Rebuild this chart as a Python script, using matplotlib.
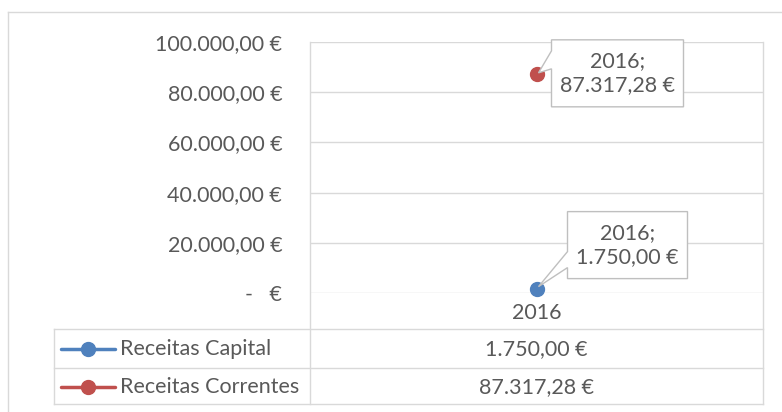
"""Receitas 2016: line chart with data table (Excel style)."""
import matplotlib
matplotlib.use("Agg")
import matplotlib.pyplot as plt
import matplotlib.transforms as mtransforms
from matplotlib.lines import Line2D
from matplotlib.patches import Polygon

# --- data ---
years = ["2016"]
series_names = ["Receitas Capital", "Receitas Correntes"]
receitas_capital = [1750.00]
receitas_correntes = [87317.28]
series_values = [receitas_capital, receitas_correntes]
series_colors = ["#4F81BD", "#C0504D"]
y_ticks = [0, 20000, 40000, 60000, 80000, 100000]

TEXT = "#595959"
GRID = "#D9D9D9"
BOX = "#BFBFBF"
FS = 15.5

plt.rcParams["font.family"] = ["Lato", "DejaVu Sans"]

W, H = 782, 412
fig = plt.figure(figsize=(W / 100, H / 100), dpi=100)


def fx(px):
    return px / W


def fy(py):
    return 1 - py / H


def eur(v):
    """Portuguese accounting format."""
    if v == 0:
        return "-   €"
    s = f"{v:,.2f}".replace(",", "X").replace(".", ",").replace("X", ".")
    return s + " €"


# plot area
ax = fig.add_axes([fx(310), fy(293), fx(763) - fx(310), fy(42) - fy(293)])
ax.set_xlim(-0.5, len(years) - 0.5)
ax.set_ylim(y_ticks[0], y_ticks[-1])
ax.set_yticks(y_ticks)
ax.set_yticklabels([eur(t) for t in y_ticks])
ax.set_xticks(range(len(years)))
ax.set_xticklabels(years)
ax.tick_params(axis="y", length=0, pad=20, labelsize=FS, labelcolor=TEXT)
ax.tick_params(axis="x", length=0, pad=7, labelsize=FS, labelcolor=TEXT)
for sp in ax.spines.values():
    sp.set_visible(False)
ax.yaxis.grid(True, color=GRID, linewidth=1.0)
ax.set_axisbelow(True)

for vals, col in zip(series_values, series_colors):
    ax.plot(range(len(years)), vals, "-o", color=col, lw=2.5,
            markersize=10, zorder=3, clip_on=False)

# data label callouts (pixel offsets from point, y down)
callouts = [
    dict(box=(31, -77, 151, -10), base=(-21, -37), tip=(2, -2)),
    dict(box=(15, -34, 147, 33), base=(-5, -23), tip=(2, -1)),
]
for vals, co in zip(series_values, callouts):
    for i, v in enumerate(vals):
        x0, y0, x1, y1 = co["box"]
        b1, b2 = co["base"]
        tx, ty = co["tip"]
        pts = [(x0, y0), (x1, y0), (x1, y1), (x0, y1), (x0, b1), (tx, ty),
               (x0, b2)]
        pts = [(px / 100, -py / 100) for px, py in pts]
        tr = fig.dpi_scale_trans + mtransforms.ScaledTranslation(
            i, v, ax.transData)
        fig.patches.append(Polygon(pts, closed=True, transform=tr,
                                   facecolor="white", edgecolor=BOX,
                                   linewidth=1.0, zorder=4))
        fig.text((x0 + x1) / 200, -(y0 + y1) / 200,
                 f"{years[i]};\n{eur(v)}", transform=tr, ha="center",
                 va="center", fontsize=FS, color=TEXT, zorder=5,
                 linespacing=1.25)

# outer chart border (cropped at right/bottom)
fig.add_artist(Line2D([fx(8), 1], [fy(12), fy(12)], color=GRID, lw=1.0))
fig.add_artist(Line2D([fx(8), fx(8)], [fy(12), 0], color=GRID, lw=1.0))

# data table grid
for px in (310, 763):
    fig.add_artist(Line2D([fx(px), fx(px)], [fy(42), fy(404)],
                          color=GRID, lw=1.0))
fig.add_artist(Line2D([fx(54), fx(54)], [fy(329), fy(404)], color=GRID, lw=1.0))
for py in (329, 368, 404):
    fig.add_artist(Line2D([fx(54), fx(763)], [fy(py), fy(py)],
                          color=GRID, lw=1.0))

# table rows: legend key, name, values
col_tr = mtransforms.blended_transform_factory(ax.transData, fig.transFigure)
row_y = [349, 387]
for name, vals, col, py in zip(series_names, series_values, series_colors, row_y):
    fig.add_artist(Line2D([fx(61), fx(115)], [fy(py), fy(py)], color=col,
                          lw=2.5, solid_capstyle="round"))
    fig.add_artist(Line2D([fx(88)], [fy(py)], color=col, marker="o",
                          markersize=10))
    fig.text(fx(120), fy(py), name, ha="left", va="center", fontsize=FS,
             color=TEXT)
    for i, v in enumerate(vals):
        fig.text(i, fy(py), eur(v), transform=col_tr, ha="center",
                 va="center", fontsize=FS, color=TEXT)

fig.savefig("out.png", dpi=100)
